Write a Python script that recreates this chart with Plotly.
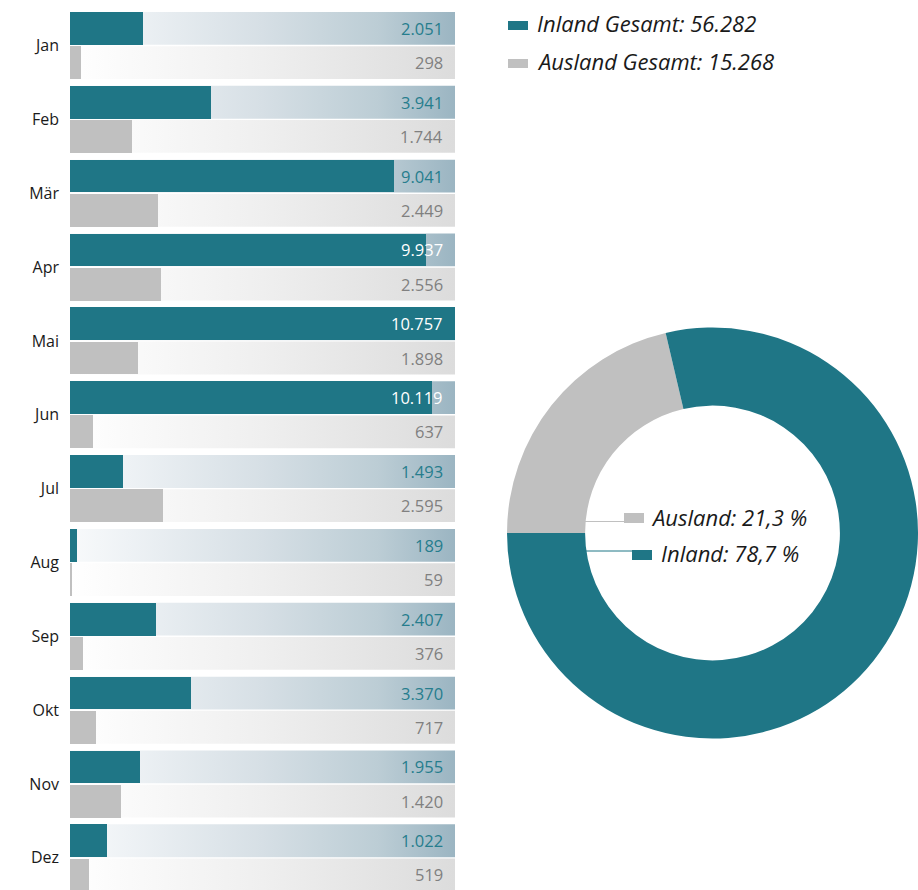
import plotly.graph_objects as go

# ---------------- data ----------------
months = ["Jan", "Feb", "Mär", "Apr", "Mai", "Jun", "Jul", "Aug", "Sep", "Okt", "Nov", "Dez"]
inland = [2051, 3941, 9041, 9937, 10757, 10119, 1493, 189, 2407, 3370, 1955, 1022]
ausland = [298, 1744, 2449, 2556, 1898, 637, 2595, 59, 376, 717, 1420, 519]
series_names = ["Inland", "Ausland"]

# ---------------- style ----------------
W, H = 918, 890
TEAL = "#1f7686"
GREY = "#c0c0c0"
TEAL_TXT = "#267d8d"
GREY_TXT = "#808080"
FONT = "Open Sans"

def de_int(n):
    return f"{n:,}".replace(",", ".")

def de_pct(p):
    return f"{p:.1f}".replace(".", ",") + " %"

def X(px):
    return px / W

def Y(px):
    return 1 - px / H

xmax = max(inland)
idx = list(range(len(months)))
off = 0.2316   # half distance between the two bars of one month (row units)
bw = 0.444     # bar thickness (row units)
y_in = [i - off for i in idx]
y_out = [i + off for i in idx]

fig = go.Figure()

# background tracks with horizontal gradient (base axes, drawn below bars)
teal_scale = [[0, "#f8fafb"], [0.15, "#eef2f5"], [0.5, "#d6dfe5"], [0.8, "#bccdd5"], [1, "#9bb5c2"]]
grey_scale = [[0, "#ffffff"], [0.5, "#efefef"], [1, "#dcdcdc"]]
for ys, cs in ((y_in, teal_scale), (y_out, grey_scale)):
    for yc in ys:
        fig.add_trace(go.Scatter(
            x=[0, xmax, xmax, 0, 0],
            y=[yc - bw / 2, yc - bw / 2, yc + bw / 2, yc + bw / 2, yc - bw / 2],
            mode="lines", fill="toself", line=dict(width=0),
            fillgradient=dict(type="horizontal", colorscale=cs),
            hoverinfo="skip", showlegend=False,
        ))

# bars (overlay axes, drawn above tracks)
fig.add_trace(go.Bar(
    x=inland, y=y_in, orientation="h", width=bw, name=series_names[0],
    marker=dict(color=TEAL, line=dict(width=0)), xaxis="x2", yaxis="y2", showlegend=False,
))
fig.add_trace(go.Bar(
    x=ausland, y=y_out, orientation="h", width=bw, name=series_names[1],
    marker=dict(color=GREY, line=dict(width=0)), xaxis="x2", yaxis="y2", showlegend=False,
))

# donut
tot_in = sum(inland)
tot_out = sum(ausland)
total = tot_in + tot_out
fig.add_trace(go.Pie(
    values=[tot_out, tot_in], labels=[series_names[1], series_names[0]],
    marker=dict(colors=[GREY, TEAL], line=dict(width=0)),
    hole=0.62, sort=False, direction="clockwise", rotation=270,
    textinfo="none", hoverinfo="label+value+percent", showlegend=False,
    domain=dict(x=[X(507), 1.0], y=[Y(743), Y(323)]),
))

annotations = []
# value labels
for i in idx:
    annotations.append(dict(
        x=xmax, y=y_in[i], xref="x2", yref="y2", xanchor="right", yanchor="middle",
        xshift=-10, text=de_int(inland[i]), showarrow=False,
        font=dict(family=FONT, size=16.5, color="#ffffff" if inland[i] / xmax > 0.88 else TEAL_TXT),
    ))
    annotations.append(dict(
        x=xmax, y=y_out[i], xref="x2", yref="y2", xanchor="right", yanchor="middle",
        xshift=-10, text=de_int(ausland[i]), showarrow=False,
        font=dict(family=FONT, size=16.5, color=GREY_TXT),
    ))

# top legend
leg_font = dict(family=FONT, size=22, color="#1a1a1a", style="italic")
annotations.append(dict(x=X(535), y=Y(23), xref="paper", yref="paper", xanchor="left", yanchor="middle",
                        text=f"{series_names[0]} Gesamt: {de_int(tot_in)}", showarrow=False, font=leg_font))
annotations.append(dict(x=X(535), y=Y(61), xref="paper", yref="paper", xanchor="left", yanchor="middle",
                        text=f"{series_names[1]} Gesamt: {de_int(tot_out)}", showarrow=False, font=leg_font))

# donut centre labels
annotations.append(dict(x=X(649), y=Y(517), xref="paper", yref="paper", xanchor="left", yanchor="middle",
                        text=f"{series_names[1]}: {de_pct(tot_out / total * 100)}", showarrow=False, font=leg_font))
annotations.append(dict(x=X(659), y=Y(553), xref="paper", yref="paper", xanchor="left", yanchor="middle",
                        text=f"{series_names[0]}: {de_pct(tot_in / total * 100)}", showarrow=False, font=leg_font))

shapes = [
    # legend swatches
    dict(type="rect", xref="paper", yref="paper", x0=X(508), x1=X(528), y0=Y(21), y1=Y(30),
         fillcolor=TEAL, line=dict(width=0)),
    dict(type="rect", xref="paper", yref="paper", x0=X(508), x1=X(528), y0=Y(59), y1=Y(68),
         fillcolor=GREY, line=dict(width=0)),
    # centre label swatches and leader lines
    dict(type="line", xref="paper", yref="paper", x0=X(585), x1=X(625), y0=Y(521.5), y1=Y(521.5),
         line=dict(color=GREY, width=1)),
    dict(type="rect", xref="paper", yref="paper", x0=X(624), x1=X(644), y0=Y(513), y1=Y(523),
         fillcolor=GREY, line=dict(width=0)),
    dict(type="line", xref="paper", yref="paper", x0=X(585), x1=X(633), y0=Y(551), y1=Y(551),
         line=dict(color=TEAL, width=1)),
    dict(type="rect", xref="paper", yref="paper", x0=X(632), x1=X(652), y0=Y(550), y1=Y(560),
         fillcolor=TEAL, line=dict(width=0)),
]

pitch = 73.85
yr = [(H - 45.5) / pitch, -45.5 / pitch]

fig.update_layout(
    width=W, height=H,
    margin=dict(l=0, r=0, t=0, b=0),
    paper_bgcolor="white", plot_bgcolor="white",
    barmode="overlay", bargap=0,
    showlegend=False,
    font=dict(family=FONT),
    xaxis=dict(domain=[X(70), X(455)], range=[0, xmax], visible=False, fixedrange=True),
    yaxis=dict(domain=[0, 1], range=yr, tickmode="array", tickvals=idx, ticktext=months,
               showgrid=False, zeroline=False, showline=False, ticks="",
               tickfont=dict(family=FONT, size=16, color="#1a1a1a"), ticklabelstandoff=10),
    xaxis2=dict(overlaying="x", range=[0, xmax], visible=False, fixedrange=True),
    yaxis2=dict(overlaying="y", range=yr, visible=False),
    annotations=annotations,
    shapes=shapes,
)

fig.write_html(
    "out.html",
    config={"displayModeBar": False},
    post_script="document.body.style.margin='0';document.body.style.padding='0';document.body.style.overflow='hidden';",
)
